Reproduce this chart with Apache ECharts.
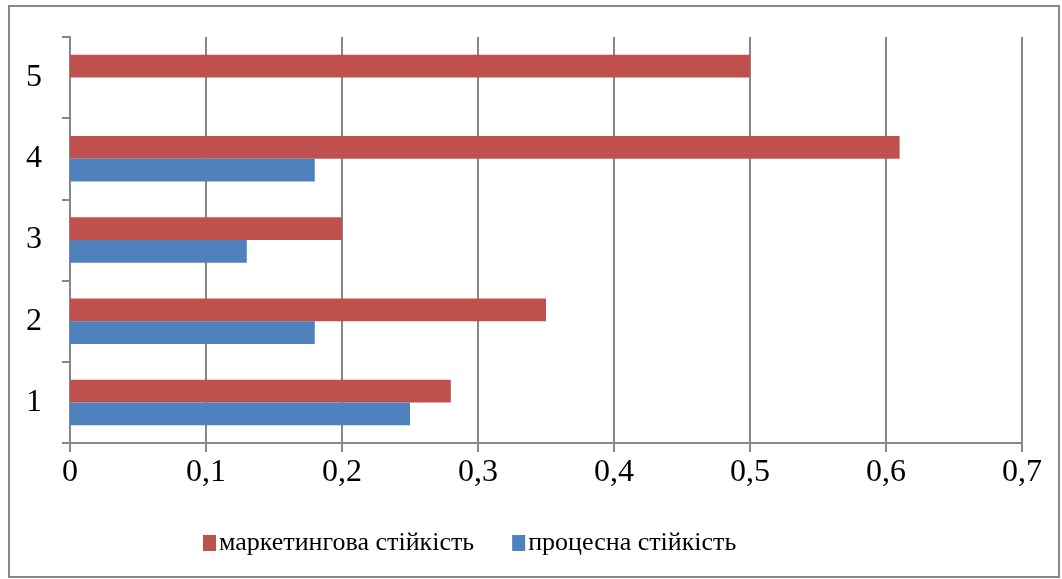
<!DOCTYPE html>
<html><head><meta charset="utf-8">
<script src="https://cdn.jsdelivr.net/npm/echarts@6/dist/echarts.min.js"></script>
<style>html,body{margin:0;padding:0;background:#fff}#c{width:1062px;height:579px}</style>
</head><body><div id="c"></div>
<script>
const categories = ['1', '2', '3', '4', '5'];
const processName = 'процесна стійкість';
const marketingName = 'маркетингова стійкість';
const processValues = [0.25, 0.18, 0.13, 0.18, null];
const marketingValues = [0.28, 0.35, 0.2, 0.61, 0.5];
const xTicks = [0, 0.1, 0.2, 0.3, 0.4, 0.5, 0.6, 0.7];

const font = "'Liberation Serif', 'DejaVu Serif', serif";
const gray = '#878787';
const chart = echarts.init(document.getElementById('c'));
chart.setOption({
  animation: false,
  backgroundColor: '#fff',
  graphic: [{type: 'rect', shape: {x: 9, y: 6, width: 1050, height: 571}, style: {fill: 'none', stroke: gray, lineWidth: 2}, silent: true}],
  grid: {left: 70, right: 40, top: 37, bottom: 136, containLabel: false},
  legend: {
    bottom: 18, left: 198,
    data: [marketingName, processName],
    itemWidth: 13, itemHeight: 16, itemGap: 38,
    textStyle: {fontFamily: font, fontSize: 26, color: '#000', padding: [0, 0, 0, -2]},
    icon: 'rect'
  },
  xAxis: {
    type: 'value', min: 0, max: 0.7, interval: 0.1,
    axisLine: {show: true, lineStyle: {color: gray, width: 2}},
    axisTick: {show: true, length: 9, lineStyle: {color: gray, width: 2}},
    splitLine: {show: true, lineStyle: {color: gray, width: 2}},
    axisLabel: {fontFamily: font, fontSize: 32, color: '#000', margin: 14,
      formatter: v => { const t = xTicks.find(x => Math.abs(x - v) < 1e-9); return String(t !== undefined ? t : v).replace('.', ','); }}
  },
  yAxis: {
    type: 'category', data: categories,
    axisLine: {show: true, lineStyle: {color: gray, width: 2}},
    axisTick: {show: true, length: 8, lineStyle: {color: gray, width: 2}},
    axisLabel: {fontFamily: font, fontSize: 32, color: '#000', margin: 28}
  },
  series: [
    {name: marketingName, type: 'bar', data: marketingValues, itemStyle: {color: '#C0504D'}, barGap: '0%', barCategoryGap: '44%'},
    {name: processName, type: 'bar', data: processValues, itemStyle: {color: '#4F81BD'}, barGap: '0%', barCategoryGap: '44%'}
  ]
});
</script></body></html>
